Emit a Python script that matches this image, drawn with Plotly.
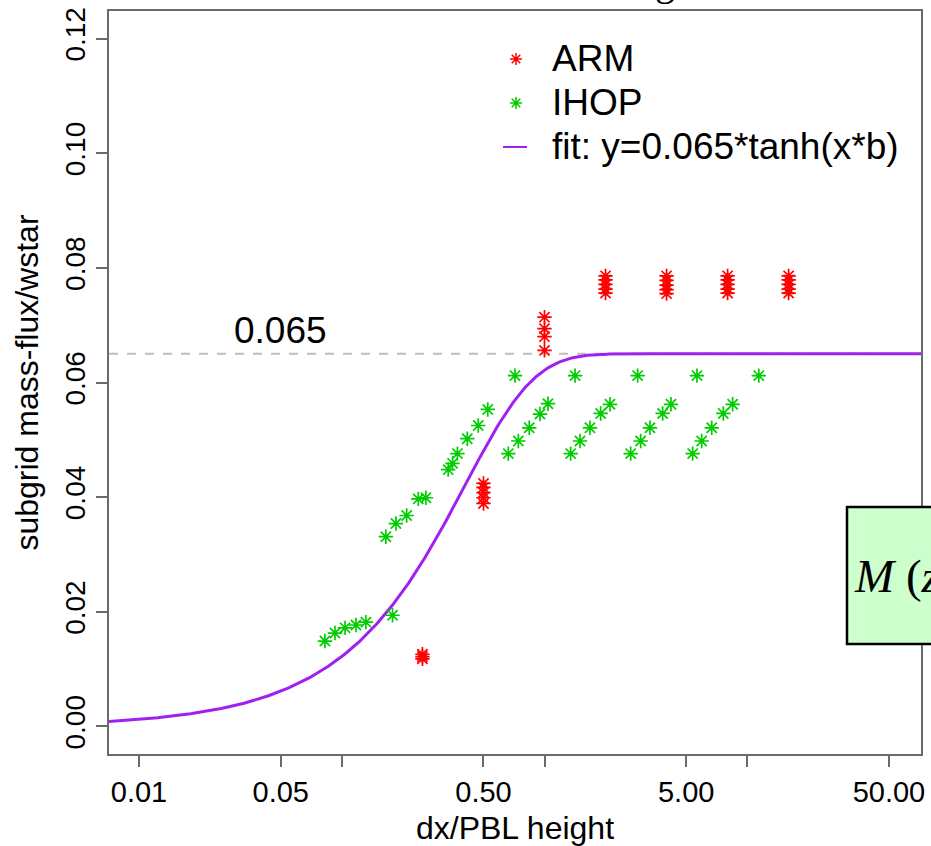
import numpy as np
import plotly.graph_objects as go

# ---------------- data ----------------
arm_x = [0.25, 0.25, 0.25,
         0.5, 0.5, 0.5, 0.5, 0.5,
         1, 1, 1, 1,
         2, 2, 2, 2, 2,
         4, 4, 4, 4, 4,
         8, 8, 8, 8, 8,
         16, 16, 16, 16, 16]
arm_y = [0.0118, 0.0122, 0.0126,
         0.0389, 0.0399, 0.0408, 0.0417, 0.0424,
         0.0656, 0.0680, 0.0694, 0.0714,
         0.0756, 0.0763, 0.0771, 0.0779, 0.0786,
         0.0755, 0.0762, 0.0770, 0.0778, 0.0786,
         0.0756, 0.0763, 0.0771, 0.0779, 0.0786,
         0.0756, 0.0763, 0.0771, 0.0779, 0.0786]

ihop_x = [0.0826, 0.0926, 0.1038, 0.1175, 0.1316, 0.178,
          0.165, 0.185, 0.209, 0.2385, 0.260,
          0.335, 0.352, 0.372, 0.416, 0.471, 0.525,
          0.663, 0.743, 0.841, 0.950, 1.040,
          1.346, 1.496, 1.676, 1.893, 2.104,
          2.661, 2.981, 3.313, 3.826, 4.205,
          5.38, 5.96, 6.68, 7.62, 8.47,
          0.715, 1.415, 2.88, 5.65, 11.4]
ihop_y = [0.0149, 0.0163, 0.0172, 0.0177, 0.0182, 0.0194,
          0.0331, 0.0354, 0.0368, 0.0397, 0.0399,
          0.0448, 0.0459, 0.0476, 0.0502, 0.0525, 0.0553,
          0.0476, 0.0498, 0.0521, 0.0545, 0.0563,
          0.0476, 0.0498, 0.0521, 0.0546, 0.0562,
          0.0476, 0.0498, 0.0521, 0.0546, 0.0562,
          0.0476, 0.0498, 0.0521, 0.0546, 0.0562,
          0.0612, 0.0612, 0.0612, 0.0612, 0.0612]

fit_amp = 0.065
fit_b = 1.9
ref_level = 0.065

x_tickvals = [0.01, 0.05, 0.1, 0.5, 1, 5, 10, 50]
x_ticktext = ["0.01", "0.05", "", "0.50", "", "5.00", "", "50.00"]
y_tickvals = [0.0, 0.02, 0.04, 0.06, 0.08, 0.10, 0.12]
y_ticktext = ["0.00", "0.02", "0.04", "0.06", "0.08", "0.10", "0.12"]

legend_labels = ["ARM", "IHOP", "fit: y=0.065*tanh(x*b)"]

# ---------------- styles ----------------
RED = "#FF0000"
GREEN = "#00CD00"
PURPLE = "#A020F0"
AX = "#6a6a6a"
FONT = "Liberation Sans, Arial, sans-serif"
SERIF = "Liberation Serif, Times New Roman, serif"

W, H = 931, 846
ml, mr, mt, mb = 109, 10, 11, 92
pw, ph = W - ml - mr, H - mt - mb


def px(xp):
    return (xp - ml) / pw


def py(yp):
    return (H - mb - yp) / ph


xr = [-2.148, 1.857]
fit_x = np.logspace(xr[0], xr[1], 500)
fit_y = fit_amp * np.tanh(fit_x * fit_b)

fig = go.Figure()

fig.add_trace(go.Scatter(x=fit_x, y=fit_y, mode="lines",
                         line=dict(color=PURPLE, width=3), showlegend=False,
                         hoverinfo="skip"))
fig.add_trace(go.Scatter(x=arm_x, y=arm_y, mode="markers",
                         marker=dict(symbol="asterisk-open", size=12, color=RED,
                                     line=dict(color=RED, width=1.7)),
                         showlegend=False))
fig.add_trace(go.Scatter(x=ihop_x, y=ihop_y, mode="markers",
                         marker=dict(symbol="asterisk-open", size=12, color=GREEN,
                                     line=dict(color=GREEN, width=1.7)),
                         showlegend=False))

# legend drawn on overlay axes in paper-like coordinates
leg_x = px(516)
leg_rows = [py(59), py(103), py(147)]
fig.add_trace(go.Scatter(x=[leg_x], y=[leg_rows[0]], xaxis="x2", yaxis="y2",
                         mode="markers",
                         marker=dict(symbol="asterisk-open", size=10, color=RED,
                                     line=dict(color=RED, width=1.5)),
                         showlegend=False, hoverinfo="skip"))
fig.add_trace(go.Scatter(x=[leg_x], y=[leg_rows[1]], xaxis="x2", yaxis="y2",
                         mode="markers",
                         marker=dict(symbol="asterisk-open", size=10, color=GREEN,
                                     line=dict(color=GREEN, width=1.5)),
                         showlegend=False, hoverinfo="skip"))
fig.add_trace(go.Scatter(x=[px(503), px(527)], y=[leg_rows[2], leg_rows[2]],
                         xaxis="x2", yaxis="y2", mode="lines",
                         line=dict(color=PURPLE, width=2),
                         showlegend=False, hoverinfo="skip"))

annotations = []
for lab, yy in zip(legend_labels, leg_rows):
    annotations.append(dict(x=px(550), y=yy, xref="paper", yref="paper",
                            text=lab, showarrow=False, xanchor="left",
                            yanchor="middle",
                            font=dict(family=FONT, size=37, color="black")))

annotations.append(dict(x=np.log10(0.05), y=0.069, xref="x", yref="y",
                        text="0.065", showarrow=False, xanchor="center",
                        yanchor="middle",
                        font=dict(family=FONT, size=37, color="black")))

# cropped equation box text
annotations.append(dict(x=px(852), y=py(576), xref="paper", yref="paper",
                        text="<i>M</i> (<i>z</i>) =", showarrow=False,
                        xanchor="left", yanchor="middle",
                        font=dict(family=SERIF, size=47, color="black")))
# cropped title text
annotations.append(dict(x=px(665), y=py(6), xref="paper", yref="paper",
                        text="g", showarrow=False, xanchor="center",
                        yanchor="bottom",
                        font=dict(family=SERIF, size=40, color="black")))

shapes = [
    dict(type="line", xref="paper", yref="y", x0=0, x1=1,
         y0=ref_level, y1=ref_level, layer="below",
         line=dict(color="#BEBEBE", width=2, dash="9px,9px")),
    dict(type="rect", xref="paper", yref="paper",
         x0=px(847), x1=px(1000), y0=py(644), y1=py(507), layer="above",
         fillcolor="#CCFFCC", line=dict(color="black", width=2.5)),
]

fig.update_layout(
    width=W, height=H,
    margin=dict(l=ml, r=mr, t=mt, b=mb, autoexpand=False),
    paper_bgcolor="white", plot_bgcolor="white",
    showlegend=False,
    font=dict(family=FONT, color="black"),
    xaxis=dict(type="log", range=xr, tickvals=x_tickvals, ticktext=x_ticktext,
               automargin=False,
               ticks="outside", ticklen=11, tickwidth=1.5, tickcolor=AX,
               showline=True, mirror=True, linecolor=AX, linewidth=1.5,
               showgrid=False, zeroline=False,
               tickfont=dict(family=FONT, size=29, color="black"),
               title=dict(text="dx/PBL height", standoff=14,
                          font=dict(family=FONT, size=32, color="black"))),
    yaxis=dict(range=[-0.0048, 0.1248], tickvals=y_tickvals, ticktext=y_ticktext,
               automargin=False,
               tickangle=-90,
               ticks="outside", ticklen=11, tickwidth=1.5, tickcolor=AX,
               showline=True, mirror=True, linecolor=AX, linewidth=1.5,
               showgrid=False, zeroline=False,
               tickfont=dict(family=FONT, size=28, color="black"),
               title=dict(text="subgrid mass-flux/wstar", standoff=12,
                          font=dict(family=FONT, size=32, color="black"))),
    xaxis2=dict(overlaying="x", range=[0, 1], visible=False, anchor="y2"),
    yaxis2=dict(overlaying="y", range=[0, 1], visible=False, anchor="x2"),
    annotations=annotations,
    shapes=shapes,
)

fig.write_html("out.html")
